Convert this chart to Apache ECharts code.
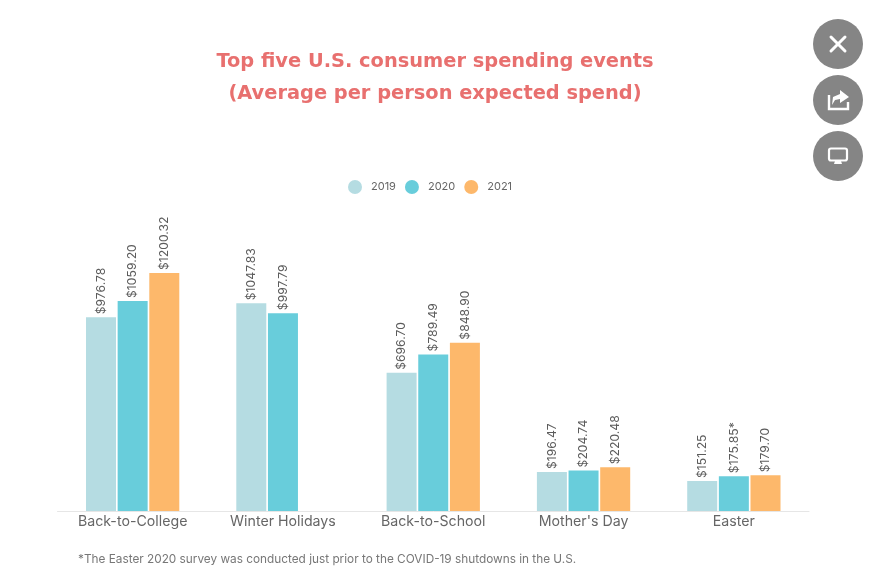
<!DOCTYPE html>
<html>
<head>
<meta charset="utf-8">
<title>Top five U.S. consumer spending events</title>
<script src="https://cdn.jsdelivr.net/npm/echarts@6/dist/echarts.min.js"></script>
<style>
html,body{margin:0;padding:0;background:#fff;}
#chart{width:893px;height:587px;}
</style>
</head>
<body>
<div id="chart"></div>
<script>
"use strict";

const categories = ["Back-to-College","Winter Holidays","Back-to-School","Mother's Day","Easter"];
const years = ["2019","2020","2021"];
const values2019 = [976.78,1047.83,696.70,196.47,151.25];
const values2020 = [1059.20,997.79,789.49,204.74,175.85];
const values2021 = [1200.32,null,848.90,220.48,179.70];
const colors = ["#b5dce2","#68cddb","#fdb86b"];
const starred = {"2020|Easter":"*"};
const titleText = "Top five U.S. consumer spending events\n(Average per person expected spend)";
const footnote = "*The Easter 2020 survey was conducted just prior to the COVID-19 shutdowns in the U.S.";
const font = "Inter";

const myChart = echarts.init(document.getElementById("chart"),null,{renderer:"canvas"});

function bar(name,data,color){
	return {
		name:name,
		type:"bar",
		data:data,
		barWidth:30,
		barGap:"5.5%",
		itemStyle:{color:color},
		animation:false,
		label:{
			show:true,
			position:"top",
			rotate:90,
			align:"left",
			verticalAlign:"middle",
			distance:3,
			color:"#5c5c5c",
			fontFamily:font,
			fontSize:12.2,
			formatter:(p)=>"$"+p.value.toFixed(2)+(starred[p.seriesName+"|"+p.name]||"")
		}
	};
}

// buttons in the top right corner
function button(cy,children){
	return {type:"group",x:838,y:cy,children:[
		{type:"circle",shape:{cx:0,cy:0,r:25},style:{fill:"#858585"}}
	].concat(children)};
}
const iconLine = {stroke:"#fff",lineWidth:3,fill:null,lineCap:"round"};

myChart.setOption({
	animation:false,
	backgroundColor:"#fff",
	title:[
		{text:titleText,left:430,top:41,textAlign:"center",
			textStyle:{color:"#e8706f",fontFamily:"DejaVu Sans",fontWeight:"bold",fontSize:19.4,lineHeight:32}},
		{text:footnote,left:73,top:548,
			textStyle:{color:"#777",fontFamily:font,fontWeight:400,fontSize:11.8}}
	],
	legend:{
		data:years,
		left:343,
		top:175,
		icon:"circle",
		itemWidth:14,
		itemHeight:14,
		itemGap:9,
		textStyle:{color:"#666",fontFamily:font,fontSize:11,padding:[0,0,0,4]}
	},
	grid:{left:57.5,right:84,top:193.7,height:317.3,containLabel:false},
	xAxis:{
		type:"category",
		data:categories,
		axisTick:{show:false},
		axisLine:{lineStyle:{color:"#e6e6e6",width:1}},
		axisLabel:{color:"#666",fontFamily:font,fontSize:14.2,margin:4}
	},
	yAxis:{type:"value",min:0,max:1600,show:false,splitLine:{show:false}},
	series:[
		bar(years[0],values2019,colors[0]),
		bar(years[1],values2020,colors[1]),
		bar(years[2],values2021,colors[2])
	],
	graphic:[
		button(44,[
			{type:"line",shape:{x1:-7,y1:-7,x2:7,y2:7},style:iconLine},
			{type:"line",shape:{x1:7,y1:-7,x2:-7,y2:7},style:iconLine}
		]),
		button(100,[
			{type:"polyline",shape:{points:[[-9,-5],[-9,9],[10,9],[10,2]]},style:{stroke:"#fff",lineWidth:2.4,fill:null}},
			{type:"polygon",shape:{points:[[2,-10],[11,-3],[2,3],[2,-1],[-3,0],[-6,5],[-5,-3],[2,-6]]},style:{fill:"#fff"}}
		]),
		button(156,[
			{type:"rect",shape:{x:-9,y:-7.5,width:18,height:12,r:2},style:{stroke:"#fff",lineWidth:2.2,fill:null}},
			{type:"polygon",shape:{points:[[-3,5],[3,5],[4,8],[-4,8]]},style:{fill:"#fff"}}
		])
	]
});
</script>
</body>
</html>
